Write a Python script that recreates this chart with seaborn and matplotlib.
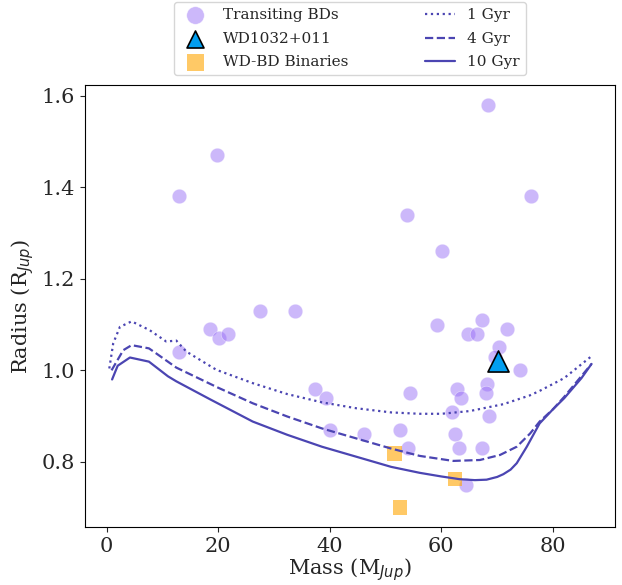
import matplotlib
matplotlib.use("Agg")
import matplotlib.pyplot as plt
import seaborn as sns
import pandas as pd

# transiting brown dwarfs
bd_mass = [68.3, 19.8, 13.0, 76.0, 53.9, 60.1,
           27.5, 33.8, 18.6, 20.1, 21.7, 13.0, 59.3, 67.3, 64.7, 66.3,
           71.7, 70.3, 69.6, 74.0, 68.1, 68.0, 62.8, 63.6, 61.9, 68.5,
           37.4, 39.4, 54.4, 40.1, 46.2, 52.6, 54.0, 62.4, 63.1, 67.2, 64.4]
bd_radius = [1.58, 1.47, 1.38, 1.38, 1.34, 1.26,
             1.13, 1.13, 1.09, 1.07, 1.08, 1.04, 1.10, 1.11, 1.08, 1.08,
             1.09, 1.05, 1.03, 1.00, 0.97, 0.95, 0.96, 0.94, 0.91, 0.90,
             0.96, 0.94, 0.95, 0.87, 0.86, 0.87, 0.83, 0.86, 0.83, 0.83, 0.75]

# WD1032+011
wd_mass = [70.1]
wd_radius = [1.02]

# WD-BD binaries
bin_mass = [51.6, 62.4, 52.6]
bin_radius = [0.818, 0.762, 0.700]

# isochrones
iso1_mass = [0.5, 1.2, 2.4, 4.5, 7.7, 10.7, 12.5, 14.3, 19.7, 26.2, 32.4,
             38.6, 44.8, 51.0, 56.1, 60.0, 65.1, 71.1, 75.8, 77.6, 82.0, 86.8]
iso1_radius = [1.004, 1.059, 1.095, 1.107, 1.088, 1.063, 1.065, 1.041, 1.001,
               0.972, 0.948, 0.930, 0.917, 0.908, 0.905, 0.905, 0.911, 0.926,
               0.945, 0.955, 0.983, 1.030]
iso4_mass = [0.9, 3.0, 4.5, 7.6, 8.9, 12.5, 20.0, 26.2, 32.4, 38.6, 44.8,
             51.0, 56.1, 62.1, 66.9, 70.5, 73.5, 75.9, 77.6, 80.0, 82.0, 86.9]
iso4_radius = [1.000, 1.044, 1.055, 1.048, 1.037, 1.006, 0.962, 0.928, 0.899,
               0.873, 0.851, 0.829, 0.813, 0.802, 0.804, 0.815, 0.833, 0.862,
               0.888, 0.915, 0.942, 1.014]
iso10_mass = [1.0, 2.0, 4.2, 7.6, 11.0, 12.5, 18.5, 26.2, 32.4, 38.6, 44.8,
              51.0, 56.1, 60.0, 63.3, 66.0, 68.1, 70.0, 71.1, 72.4, 73.5,
              75.3, 77.6, 80.0, 82.0, 85.1, 86.9]
iso10_radius = [0.980, 1.010, 1.028, 1.019, 0.987, 0.976, 0.937, 0.888, 0.859,
                0.833, 0.811, 0.789, 0.776, 0.768, 0.762, 0.760, 0.761, 0.767,
                0.773, 0.783, 0.797, 0.833, 0.884, 0.915, 0.939, 0.983, 1.014]

sns.set_style("ticks")
plt.rcParams["font.family"] = ["DejaVu Serif"]

fig = plt.figure(figsize=(6.22, 5.85), dpi=100)
ax = fig.add_axes([0.1367, 0.0991, 0.852, 0.7551])

line_col = "#4b45b2"
iso = [("1 Gyr", iso1_mass, iso1_radius, ":"),
       ("4 Gyr", iso4_mass, iso4_radius, "--"),
       ("10 Gyr", iso10_mass, iso10_radius, "-")]
line_handles = []
for label, m, r, ls in iso:
    df = pd.DataFrame({"m": m, "r": r})
    sns.lineplot(data=df, x="m", y="r", sort=False, estimator=None, ax=ax,
                 color=line_col, linestyle=ls, linewidth=1.6, label=label)
    line_handles.append(ax.lines[-1])

bd = pd.DataFrame({"m": bd_mass, "r": bd_radius})
sns.scatterplot(data=bd, x="m", y="r", ax=ax, color="#9b72f7", alpha=0.5,
                s=110, edgecolor="white", linewidth=0.5, label="Transiting BDs")
h_bd = ax.collections[-1]
wd = pd.DataFrame({"m": wd_mass, "r": wd_radius})
sns.scatterplot(data=wd, x="m", y="r", ax=ax, color="#029ef0", marker="^",
                s=230, edgecolor="black", linewidth=1.2, label="WD1032+011", zorder=4)
h_wd = ax.collections[-1]
bn = pd.DataFrame({"m": bin_mass, "r": bin_radius})
sns.scatterplot(data=bn, x="m", y="r", ax=ax, color="orange", alpha=0.6,
                marker="s", s=110, edgecolor="none", label="WD-BD Binaries")
h_bn = ax.collections[-1]

ax.set_xlim(-3.85, 91.1)
ax.set_ylim(0.6575, 1.623)
ax.set_yticks([0.8, 1.0, 1.2, 1.4, 1.6])
ax.set_xticks([0, 20, 40, 60, 80])
ax.tick_params(labelsize=15)
ax.set_xlabel("Mass (M$_{Jup}$)", fontsize=15, labelpad=0)
ax.set_ylabel("Radius (R$_{Jup}$)", fontsize=15)
for s in ax.spines.values():
    s.set_color("black")

handles = [h_bd, h_wd, h_bn] + line_handles
labels = ["Transiting BDs", "WD1032+011", "WD-BD Binaries", "1 Gyr", "4 Gyr", "10 Gyr"]
leg = ax.legend(handles, labels, ncol=2, loc="lower center", bbox_to_anchor=(0.5, 1.005),
                fontsize=11, frameon=True, columnspacing=5.0, labelspacing=0.62)
for h, sz in zip(leg.legend_handles[:3], [160, 150, 150]):
    h.set_sizes([sz])

fig.savefig("out.png", dpi=100)
plt.close(fig)
